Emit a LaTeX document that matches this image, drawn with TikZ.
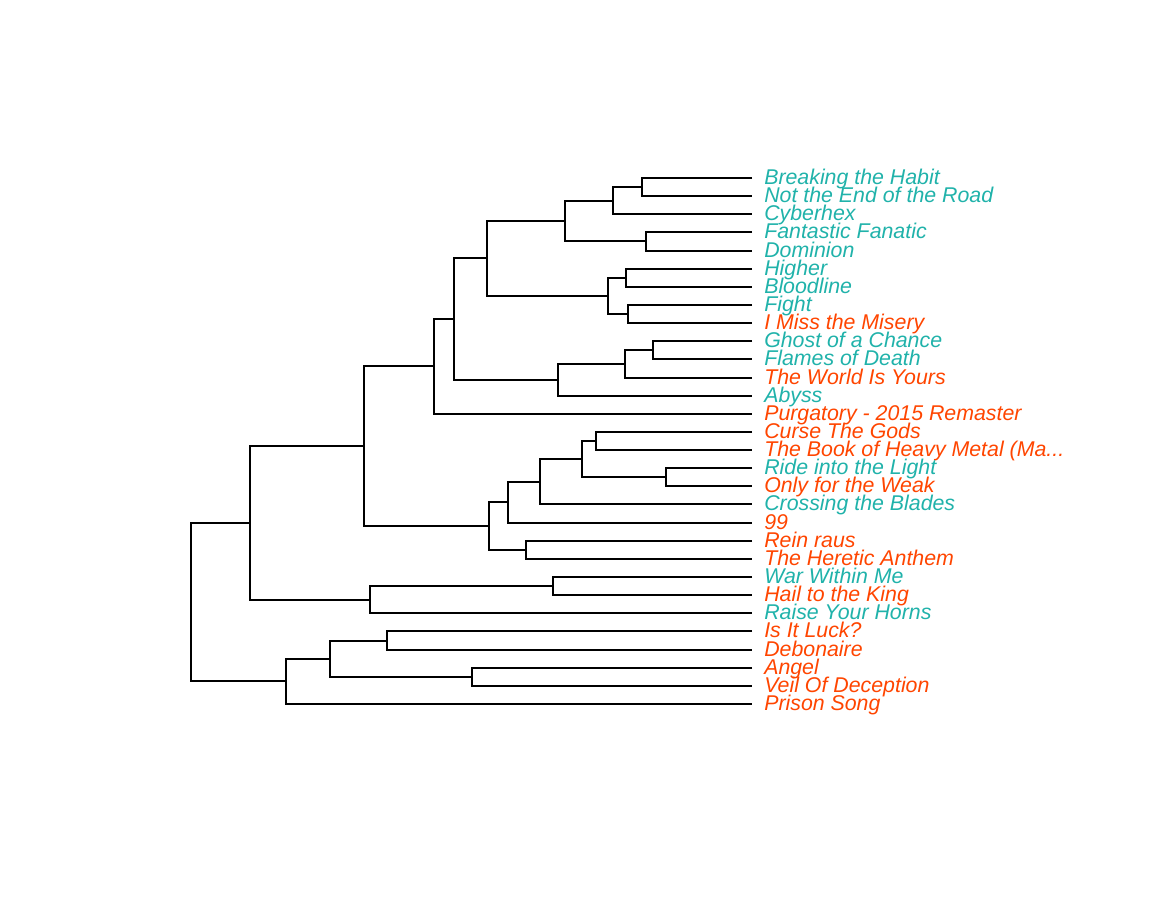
\documentclass[tikz,border=0pt]{standalone}
\usepackage{fontspec}
\setmainfont{Liberation Sans}
\definecolor{tl}{RGB}{32,178,170}
\definecolor{orr}{RGB}{255,69,0}
\newcommand\ly[1]{round(178+18.1379*(#1))}
\newcommand\booktitle{The Book of Heavy Metal (Ma...}
\begin{document}
\begin{tikzpicture}[x=0.75pt,y=-0.75pt,
  br/.style={draw=black,line width=1.5pt},
  lab/.style={anchor=base west,inner sep=0pt,font=\fontsize{16pt}{18pt}\selectfont\itshape}]
\useasboundingbox (0,0) rectangle (1152,921);
\foreach \i/\c/\t in {0/tl/Breaking the Habit,1/tl/Not the End of the Road,2/tl/Cyberhex,3/tl/Fantastic Fanatic,4/tl/Dominion,5/tl/Higher,6/tl/Bloodline,7/tl/Fight,8/orr/I Miss the Misery,9/tl/Ghost of a Chance,10/tl/Flames of Death,11/orr/The World Is Yours,12/tl/Abyss,13/orr/Purgatory - 2015 Remaster,14/orr/Curse The Gods,15/orr/\booktitle,16/tl/Ride into the Light,17/orr/Only for the Weak,18/tl/Crossing the Blades,19/orr/99,20/orr/Rein raus,21/orr/The Heretic Anthem,22/tl/War Within Me,23/orr/Hail to the King,24/tl/Raise Your Horns,25/orr/Is It Luck?,26/orr/Debonaire,27/orr/Angel,28/orr/Veil Of Deception,29/orr/Prison Song}{
  \coordinate (L\i) at (752,{\ly{\i}});
  \node[lab,text=\c] (T\i) at ([shift={(12,6.8)}]L\i) {\t};
}
% internal nodes
\coordinate (a) at (642,{\ly{0.5}});
\coordinate (b) at (613,{\ly{1.25}});
\coordinate (c) at (646,{\ly{3.5}});
\coordinate (d) at (565,{\ly{2.375}});
\coordinate (e) at (626,{\ly{5.5}});
\coordinate (f) at (628,{\ly{7.5}});
\coordinate (g) at (608,{\ly{6.5}});
\coordinate (h) at (487,{\ly{4.4375}});
\coordinate (i) at (653,{\ly{9.5}});
\coordinate (j) at (625,{\ly{10.25}});
\coordinate (k) at (558,{\ly{11.125}});
\coordinate (l) at (454,{\ly{7.78125}});
\coordinate (m) at (434,{\ly{10.390625}});
\coordinate (n) at (596,{\ly{14.5}});
\coordinate (o) at (666,{\ly{16.5}});
\coordinate (p) at (582,{\ly{15.5}});
\coordinate (q) at (540,{\ly{16.75}});
\coordinate (r) at (508,{\ly{17.875}});
\coordinate (s) at (526,{\ly{20.5}});
\coordinate (t) at (489,{\ly{19.1875}});
\coordinate (u) at (364,{\ly{14.7890625}});
\coordinate (v) at (553,{\ly{22.5}});
\coordinate (w) at (370,{\ly{23.25}});
\coordinate (xx) at (250,{\ly{19.01953}});
\coordinate (yy) at (387,{\ly{25.5}});
\coordinate (zz) at (472,{\ly{27.5}});
\coordinate (aa) at (330,{\ly{26.5}});
\coordinate (bb) at (286,{\ly{27.75}});
\coordinate (root) at (191,{\ly{23.384765}});
% branches
\foreach \p/\ca/\cb in {a/L0/L1,b/a/L2,c/L3/L4,d/b/c,e/L5/L6,f/L7/L8,g/e/f,h/d/g,i/L9/L10,j/i/L11,k/j/L12,l/h/k,m/l/L13,n/L14/L15,o/L16/L17,p/n/o,q/p/L18,r/q/L19,s/L20/L21,t/r/s,u/m/t,v/L22/L23,w/v/L24,xx/u/w,yy/L25/L26,zz/L27/L28,aa/yy/zz,bb/aa/L29,root/xx/bb}{
  \draw[br] (\ca) -| (\p) |- (\cb);
}
\end{tikzpicture}
\end{document}
